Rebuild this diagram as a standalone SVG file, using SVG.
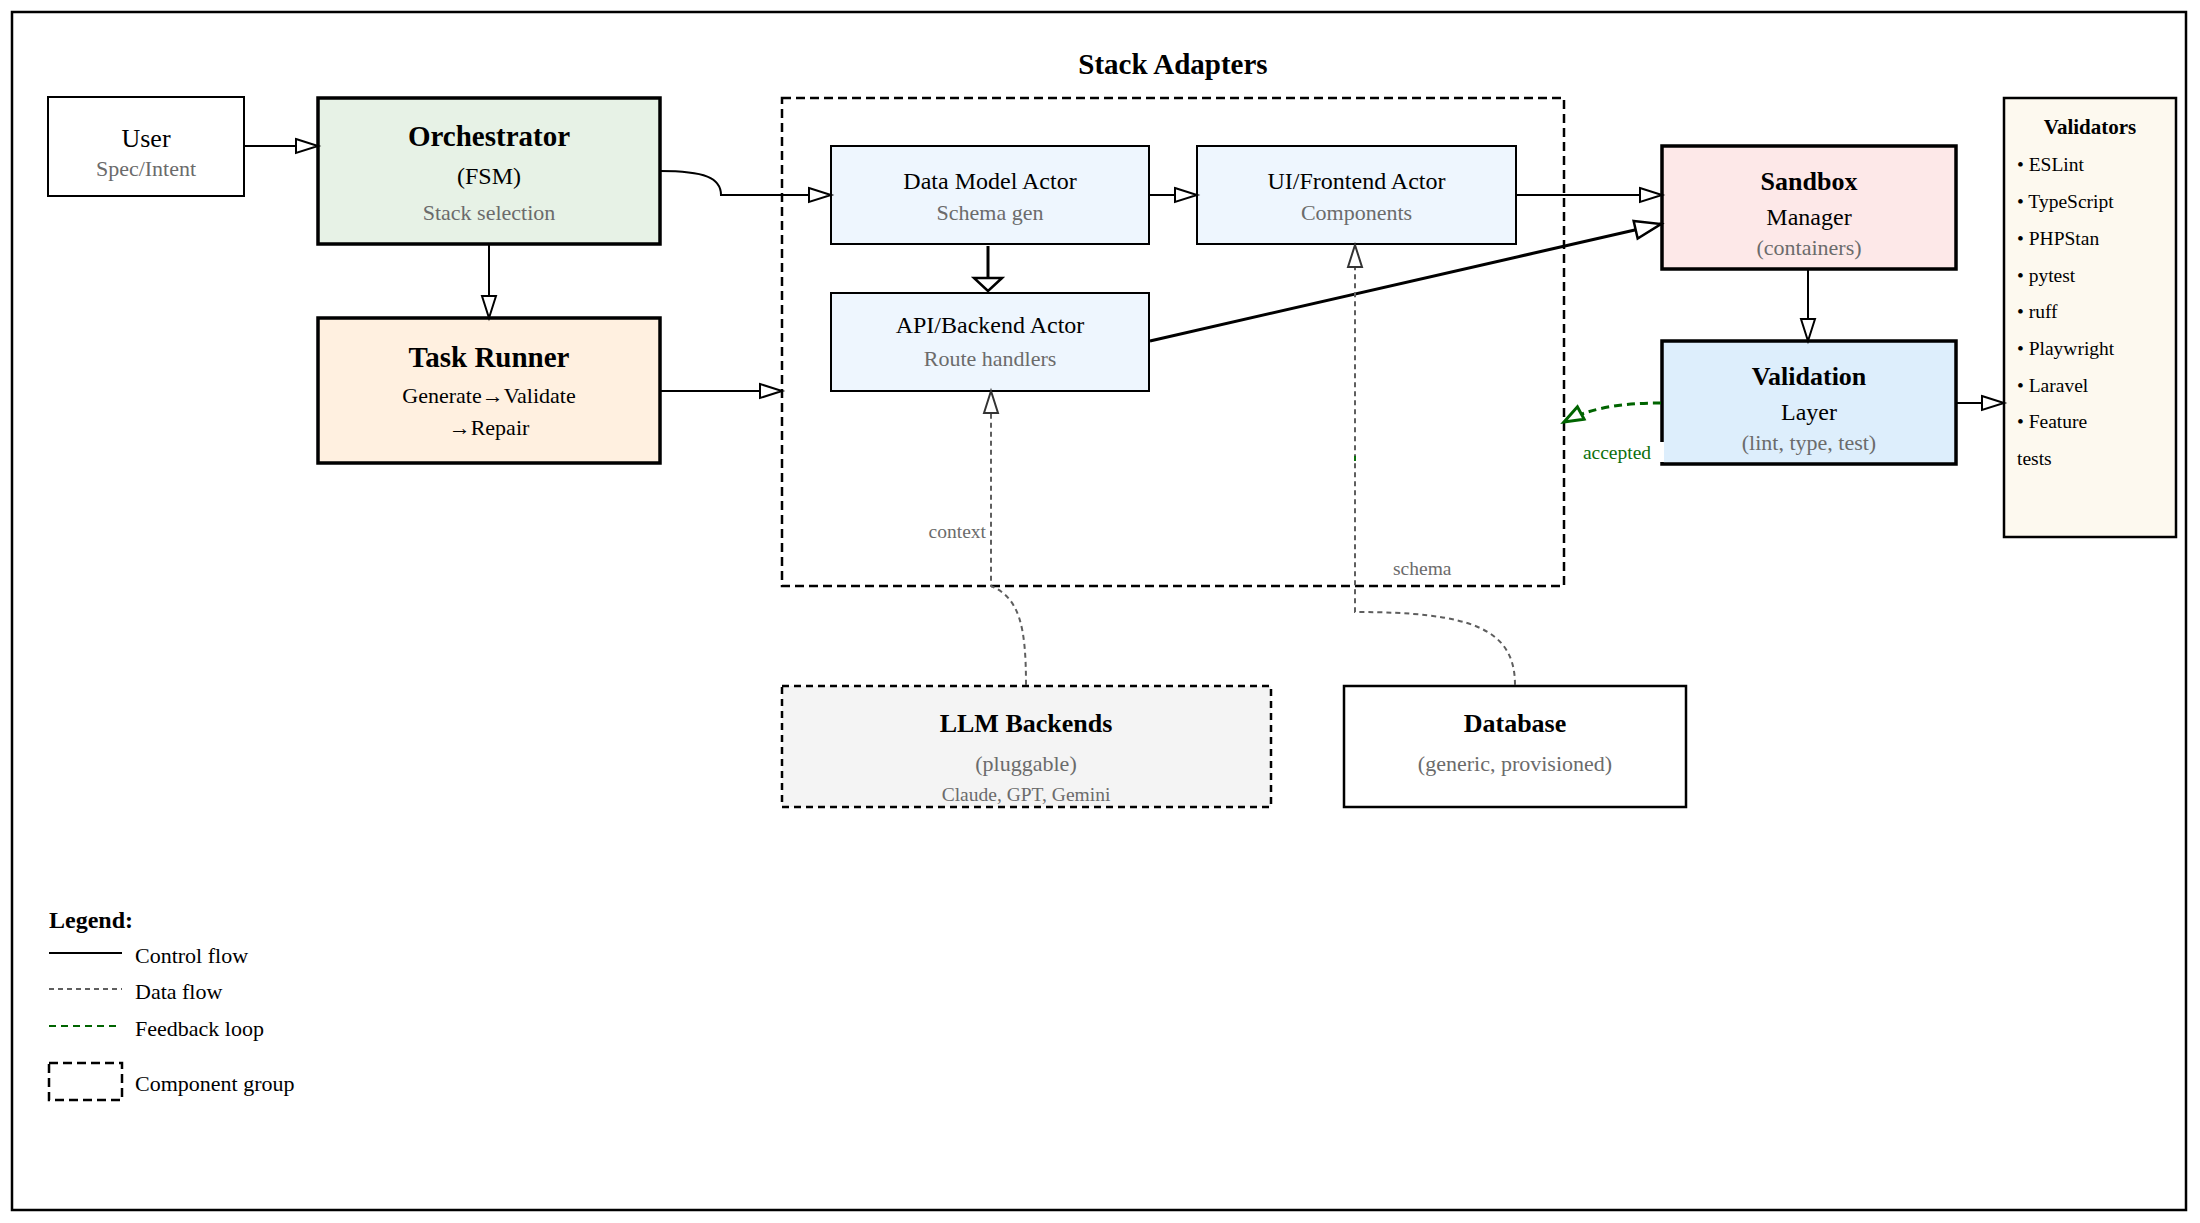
<svg xmlns="http://www.w3.org/2000/svg" width="2200" height="1223" viewBox="0 0 2200 1223">
<style>
text{font-family:"Liberation Serif","Times New Roman",serif;fill:#000}
.c{text-anchor:middle}
.main{font-size:24px}
.user{font-size:26px}
.sub{font-size:22px;fill:#6b6b6b}
.h28{font-size:29px;font-weight:bold}
.h26{font-size:26px;font-weight:bold}
.h21{font-size:21px;font-weight:bold}
.h24{font-size:24px;font-weight:bold}
.sm{font-size:19.5px}
.lbl{font-size:19.5px;fill:#6b6b6b}
.acc{font-size:19.5px;fill:#0b700b}
.leg{font-size:22px}
.thin{stroke:#000;stroke-width:2}
.thick{stroke:#000;stroke-width:3.5}
.mid{stroke:#000;stroke-width:2.5}
.ctl{fill:none;stroke:#000;stroke-width:2}
.ctl3{fill:none;stroke:#000;stroke-width:3}
.data{fill:none;stroke:#5e5e5e;stroke-width:2;stroke-dasharray:5 4}
.fb{fill:none;stroke:#006400;stroke-width:3;stroke-dasharray:8 5}
.grp{fill:none;stroke:#000;stroke-width:2.5;stroke-dasharray:9 5}
</style>
<defs>
<marker id="arr" markerUnits="userSpaceOnUse" markerWidth="26" markerHeight="18" refX="23" refY="8" orient="auto" overflow="visible">
<path d="M1,1 L23,8 L1,15 Z" fill="#fff" stroke="#000" stroke-width="2"/>
</marker>
<marker id="arrBig" markerUnits="userSpaceOnUse" markerWidth="30" markerHeight="22" refX="27" refY="10" orient="auto" overflow="visible">
<path d="M1,1 L27,10 L1,19 Z" fill="#fff" stroke="#000" stroke-width="2.5"/>
</marker>
<marker id="arrWide" markerUnits="userSpaceOnUse" markerWidth="16" markerHeight="32" refX="14" refY="15" orient="auto" overflow="visible">
<path d="M1,1 L14,15 L1,29 Z" fill="#fff" stroke="#000" stroke-width="2.5"/>
</marker>
<marker id="arrData" markerUnits="userSpaceOnUse" markerWidth="26" markerHeight="18" refX="23" refY="8" orient="auto" overflow="visible">
<path d="M1,1 L23,8 L1,15 Z" fill="#fff" stroke="#333" stroke-width="2"/>
</marker>
<marker id="arrGreen" markerUnits="userSpaceOnUse" markerWidth="24" markerHeight="18" refX="20" refY="8" orient="auto" overflow="visible">
<path d="M1,1 L20,8 L1,15 Z" fill="#fff" stroke="#006400" stroke-width="3"/>
</marker>
</defs>
<rect x="0" y="0" width="2200" height="1223" fill="#fff"/>
<rect x="12" y="12" width="2174" height="1198" fill="none" stroke="#000" stroke-width="2.5"/>

<g id="stack-adapters">
<rect class="grp" x="782" y="98" width="782" height="488"/>
<text class="h28 c" x="1173" y="74">Stack Adapters</text>
</g>

<g id="user">
<rect class="thin" x="48" y="97" width="196" height="99" fill="#fff"/>
<text class="user c" x="146" y="147">User</text>
<text class="sub c" x="146" y="176">Spec/Intent</text>
</g>

<g id="orchestrator">
<rect class="thick" x="318" y="98" width="342" height="146" fill="#e7f2e6"/>
<text class="h28 c" x="489" y="146">Orchestrator</text>
<text class="main c" x="489" y="184">(FSM)</text>
<text class="sub c" x="489" y="220">Stack selection</text>
</g>

<g id="task-runner">
<rect class="thick" x="318" y="318" width="342" height="145" fill="#fff0e0"/>
<text class="h28 c" x="489" y="367">Task Runner</text>
<text class="sub c" x="489" y="403" style="fill:#000">Generate→Validate</text>
<text class="sub c" x="489" y="435" style="fill:#000">→Repair</text>
</g>

<g id="data-model-actor">
<rect class="thin" x="831" y="146" width="318" height="98" fill="#eef6fe"/>
<text class="main c" x="990" y="189">Data Model Actor</text>
<text class="sub c" x="990" y="220">Schema gen</text>
</g>

<g id="ui-frontend-actor">
<rect class="thin" x="1197" y="146" width="319" height="98" fill="#eef6fe"/>
<text class="main c" x="1356.5" y="189">UI/Frontend Actor</text>
<text class="sub c" x="1356.5" y="220">Components</text>
</g>

<g id="api-backend-actor">
<rect class="thin" x="831" y="293" width="318" height="98" fill="#eef6fe"/>
<text class="main c" x="990" y="333">API/Backend Actor</text>
<text class="sub c" x="990" y="366">Route handlers</text>
</g>

<g id="sandbox-manager">
<rect class="thick" x="1662" y="146" width="294" height="123" fill="#fde8e8"/>
<text class="h26 c" x="1809" y="190">Sandbox</text>
<text class="main c" x="1809" y="225">Manager</text>
<text class="sub c" x="1809" y="255">(containers)</text>
</g>

<g id="validation-layer">
<rect class="thick" x="1662" y="341" width="294" height="123" fill="#ddeefc"/>
<text class="h26 c" x="1809" y="385">Validation</text>
<text class="main c" x="1809" y="420">Layer</text>
<text class="sub c" x="1809" y="450">(lint, type, test)</text>
</g>

<g id="validators">
<rect class="mid" x="2004" y="98" width="172" height="439" fill="#fdf9ef"/>
<text class="h21 c" x="2090" y="134">Validators</text>
<text class="sm" x="2017" y="171">• ESLint</text>
<text class="sm" x="2017" y="208">• TypeScript</text>
<text class="sm" x="2017" y="245">• PHPStan</text>
<text class="sm" x="2017" y="282">• pytest</text>
<text class="sm" x="2017" y="318">• ruff</text>
<text class="sm" x="2017" y="355">• Playwright</text>
<text class="sm" x="2017" y="392">• Laravel</text>
<text class="sm" x="2017" y="428">• Feature</text>
<text class="sm" x="2017" y="465">tests</text>
</g>

<g id="llm-backends">
<rect x="782" y="686" width="489" height="121" fill="#f4f4f4" stroke="#000" stroke-width="2.5" stroke-dasharray="7 5"/>
<text class="h26 c" x="1026" y="732">LLM Backends</text>
<text class="sub c" x="1026" y="771">(pluggable)</text>
<text class="lbl c" x="1026" y="801">Claude, GPT, Gemini</text>
</g>

<g id="database">
<rect class="mid" x="1344" y="686" width="342" height="121" fill="#fff"/>
<text class="h26 c" x="1515" y="732">Database</text>
<text class="sub c" x="1515" y="771">(generic, provisioned)</text>
</g>

<g id="connectors">
<path class="ctl" d="M244,146 L318,146" marker-end="url(#arr)"/>
<path class="ctl" d="M660,171 C705,171 721,178 721,195 L831,195" marker-end="url(#arr)"/>
<path class="ctl" d="M489,244 L489,318" marker-end="url(#arr)"/>
<path class="ctl" d="M660,391 L782,391" marker-end="url(#arr)"/>
<path class="ctl3" d="M988,246 L988,291" marker-end="url(#arrWide)"/>
<path class="ctl" d="M1149,195 L1197,195" marker-end="url(#arr)"/>
<path class="ctl" d="M1516,195 L1662,195" marker-end="url(#arr)"/>
<path class="ctl3" d="M1150,341 L1661,224" marker-end="url(#arrBig)"/>
<path class="ctl" d="M1808,269 L1808,341" marker-end="url(#arr)"/>
<path class="ctl" d="M1956,403 L2004,403" marker-end="url(#arr)"/>
<path class="data" d="M1026,685 C1026,628 1020,598 991,586 L991,391" marker-end="url(#arrData)"/>
<text class="lbl" x="986" y="538" text-anchor="end">context</text>
<path class="data" d="M1515,685 C1515,628 1470,612 1355,612 L1355,245" marker-end="url(#arrData)"/>
<text class="lbl" x="1393" y="575">schema</text>
<line x1="1355" y1="456" x2="1355" y2="461" stroke="#0b700b" stroke-width="2"/>
<path class="fb" d="M1661,403 C1620,403 1590,408 1564,422" marker-end="url(#arrGreen)"/>
<rect x="1574" y="442" width="90" height="20" fill="#fff"/>
<text class="acc c" x="1617" y="459">accepted</text>
</g>

<g id="legend">
<text class="h24" x="49" y="928">Legend:</text>
<line x1="49" y1="953" x2="122" y2="953" stroke="#000" stroke-width="2"/>
<text class="leg" x="135" y="963">Control flow</text>
<line class="data" x1="49" y1="989" x2="122" y2="989"/>
<text class="leg" x="135" y="999">Data flow</text>
<line x1="49" y1="1026" x2="117" y2="1026" stroke="#006400" stroke-width="2" stroke-dasharray="7 5"/>
<text class="leg" x="135" y="1036">Feedback loop</text>
<rect class="grp" x="49" y="1063" width="73" height="37"/>
<text class="leg" x="135" y="1091">Component group</text>
</g>
</svg>
